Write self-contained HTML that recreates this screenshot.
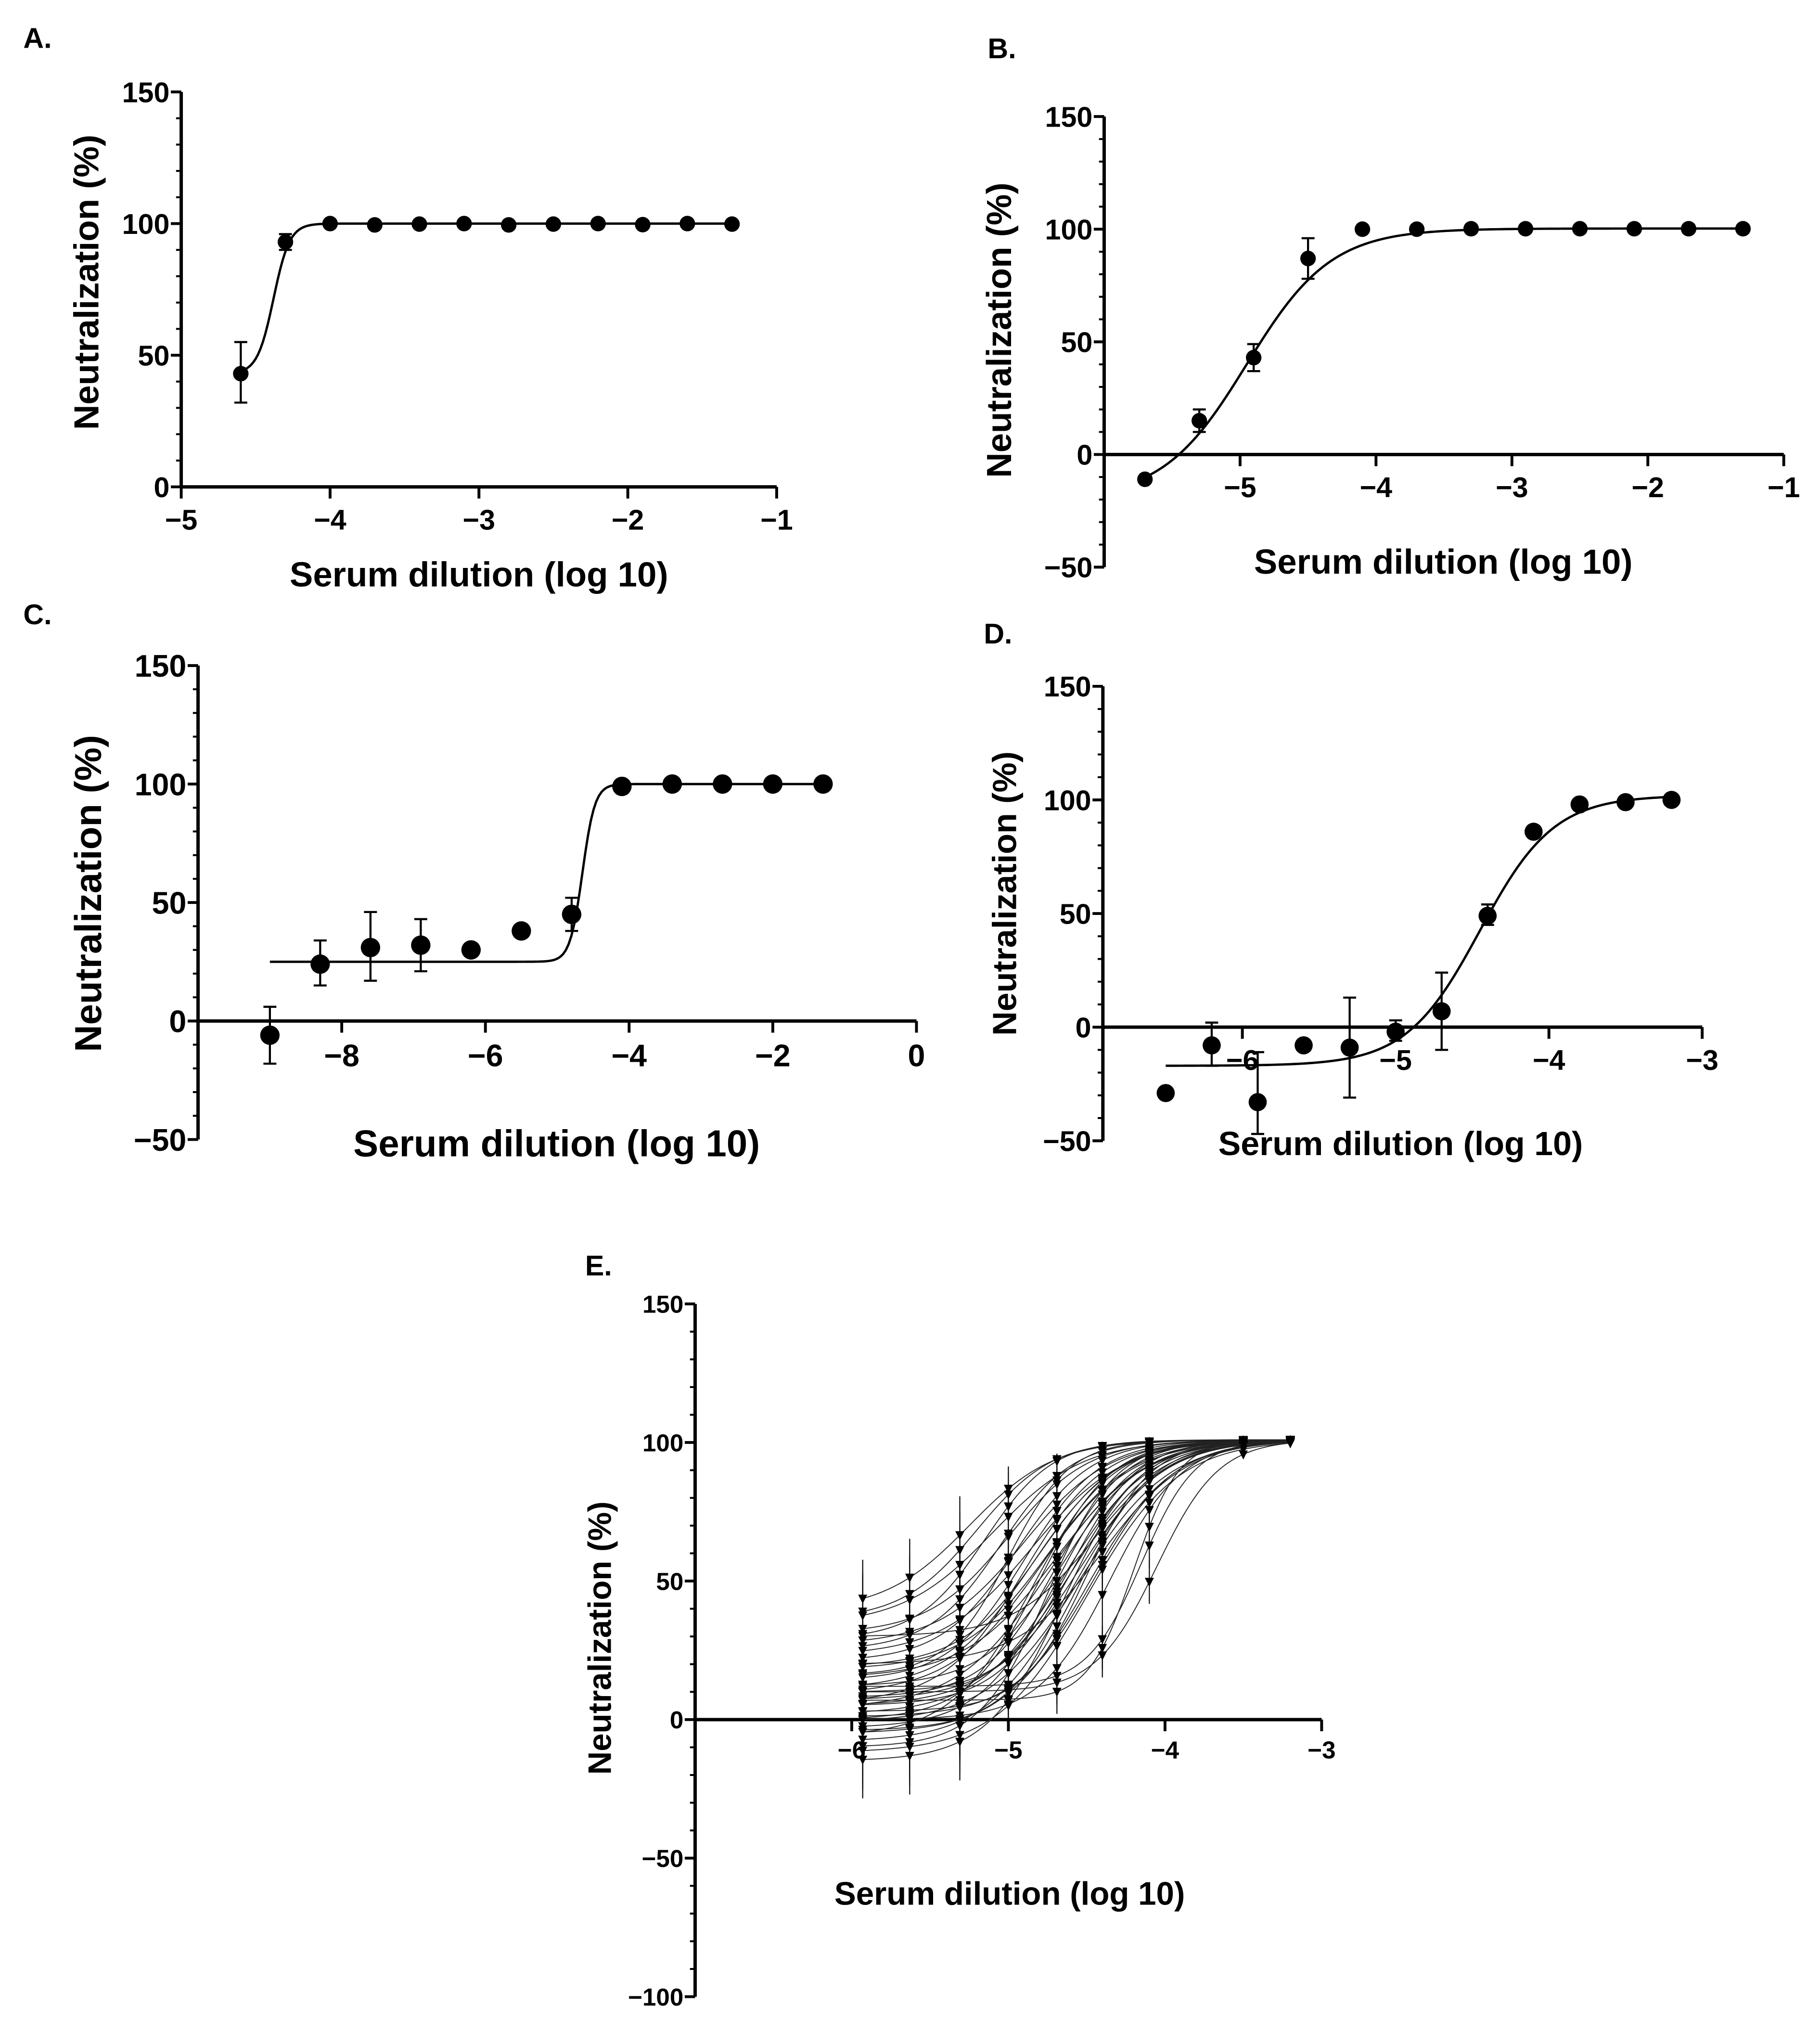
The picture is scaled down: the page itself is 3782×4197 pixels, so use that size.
<!DOCTYPE html>
<html><head><meta charset="utf-8"><style>
html,body{margin:0;padding:0;background:#fff}
svg{display:block}
text{font-family:"Liberation Sans",Arial,sans-serif;font-weight:bold;fill:#000}
</style></head><body>
<svg id="fig" width="3782" height="4197" viewBox="0 0 1406 1560" preserveAspectRatio="none" xmlns="http://www.w3.org/2000/svg"></svg>
<script>
// ---- Panel A data ----
const aX = [-4.6,-4.3,-4.0,-3.7,-3.4,-3.1,-2.8,-2.5,-2.2,-1.9,-1.6,-1.3];
const aY = [43,93,100,99.5,99.8,100,99.5,99.8,100,99.6,100,99.8];
const aErrLo = [32,90,100,99.5,99.8,100,99.5,99.8,100,99.6,100,99.8];
const aErrHi = [55,96,100,99.5,99.8,100,99.5,99.8,100,99.6,100,99.8];
const aFit = [43,100,-4.38,8];
// ---- Panel B data ----
const bX = [-5.7,-5.3,-4.9,-4.5,-4.1,-3.7,-3.3,-2.9,-2.5,-2.1,-1.7,-1.3];
const bY = [-11,15,43,87,100,100,100.2,100.2,100.2,100.2,100.2,100.2];
const bErrLo = [-11,10,37,78,100,100,100.2,100.2,100.2,100.2,100.2,100.2];
const bErrHi = [-11,20,49,96,100,100,100.2,100.2,100.2,100.2,100.2,100.2];
const bFit = [-20,100.3,-4.95,1.4];
// ---- Panel C data ----
const cX = [-9.0,-8.3,-7.6,-6.9,-6.2,-5.5,-4.8,-4.1,-3.4,-2.7,-2.0,-1.3];
const cY = [-6,24,31,32,30,38,45,99,100,100,100,100];
const cErrLo = [-18,15,17,21,30,38,38,99,100,100,100,100];
const cErrHi = [6,34,46,43,30,38,52,99,100,100,100,100];
const cFit = [25,100,-4.65,5];
// ---- Panel D data ----
const dX = [-6.5,-6.2,-5.9,-5.6,-5.3,-5.0,-4.7,-4.4,-4.1,-3.8,-3.5,-3.2];
const dY = [-29,-8,-33,-8,-9,-2,7,49,86,98,99,100];
const dErrLo = [-29,-17,-47,-8,-31,-6,-10,45,86,98,99,100];
const dErrHi = [-29,2,-11,-8,13,3,24,54,86,98,99,100];
const dFit = [-17,102,-4.45,1.8];
// ---- Panel E data (one entry per curve) ----
const eX = [-5.93,-5.63,-5.31,-5.0,-4.69,-4.4,-4.1,-3.5,-3.2];
const eBottom = [39,36,34,31,29,27,25,23,21,19,18,16,15,14,12,11,10,9,8,7,6,5,4,3,2,1,0,-1,-3,-5,-6,-8,-10,-12,-15,7,12,20,30,-4,0,5,10];
const eIC50 = [-5.25,-5.2,-5.1,-5.0,-5.15,-4.9,-5.05,-4.85,-4.95,-4.8,-4.75,-5.0,-4.7,-4.9,-4.65,-4.85,-4.6,-4.8,-4.7,-4.55,-4.9,-4.6,-4.75,-4.5,-4.65,-4.45,-4.8,-4.55,-4.7,-4.5,-4.85,-4.6,-4.75,-4.5,-4.65,-4.2,-4.15,-4.4,-4.45,-4.55,-4.35,-4.6,-4.05];
const eHill = [1.6,1.8,1.5,1.7,2.0,1.6,1.9,1.5,1.8,1.7,1.6,2.2,1.5,1.8,1.7,1.6,2.0,1.5,1.9,1.6,1.7,1.8,1.5,2.1,1.6,1.7,1.9,1.5,1.8,1.6,1.7,1.6,2.0,1.5,1.8,3,2.5,1.6,1.7,1.8,1.9,1.6,2.2];

const NS='http://www.w3.org/2000/svg';
const svg=document.getElementById('fig');
function mk(tag,attrs,parent){const e=document.createElementNS(NS,tag);for(const k in attrs)e.setAttribute(k,attrs[k]);(parent||svg).appendChild(e);return e;}
function fpl(p,x){return p[0]+(p[1]-p[0])/(1+Math.pow(10,(p[2]-x)*p[3]));}

function panel(cfg){
  const g=mk('g',{});
  
  
  const sx=v=>cfg.x0+(v-cfg.xmin)*(cfg.x1-cfg.x0)/(cfg.xmax-cfg.xmin);
  const sy=v=>cfg.y0+(v-cfg.ymin)*(cfg.y1-cfg.y0)/(cfg.ymax-cfg.ymin);
  const lab=mk('text',{x:cfg.lx,y:cfg.ly,'font-size':22,'font-family':'DejaVu Sans'},g);lab.textContent=cfg.label;
  
  
  const ya=mk('line',{x1:sx(cfg.xmin),x2:sx(cfg.xmin),y1:sy(cfg.ymin),y2:sy(cfg.ymax),stroke:'#000','stroke-width':2.6},g);
  
  
  const ax0=sx(cfg.xmin);
  for(let v=cfg.ymin;v<=cfg.ymax+0.01;v+=10){mk('line',{x1:ax0-4,x2:ax0,y1:sy(v),y2:sy(v),stroke:'#000','stroke-width':1.5},g);}
  cfg.yticks.forEach(v=>{
    mk('line',{x1:ax0-8,x2:ax0,y1:sy(v),y2:sy(v),stroke:'#000','stroke-width':2.2},g);
    const t=mk('text',{x:ax0-9,y:sy(v)+cfg.fs*0.36,'text-anchor':'end','font-size':cfg.fs},g);t.textContent=v<0?'\u2212'+(-v):v;
    
    
  });
  const y0=sy(0);
  const xa=mk('line',{x1:sx(cfg.xmin),x2:sx(cfg.xmax),y1:y0,y2:y0,stroke:'#000','stroke-width':2.6},g);
  
  
  cfg.xticks.forEach(v=>{
    mk('line',{x1:sx(v),x2:sx(v),y1:y0,y2:y0+9,stroke:'#000','stroke-width':2.2},g);
    const t=mk('text',{x:sx(v),y:y0+cfg.fs+11,'text-anchor':'middle','font-size':cfg.fs},g);t.textContent=v<0?'\u2212'+(-v):v;
    
    
  });
  const xt=mk('text',{x:cfg.xtx,y:cfg.xty,'text-anchor':'middle','font-size':cfg.tfs},g);xt.textContent='Serum dilution (log 10)';
  
  
  const yt=mk('text',{x:cfg.ytx,y:cfg.yty,'text-anchor':'middle','font-size':cfg.tfs,transform:`rotate(-90 ${cfg.ytx} ${cfg.yty})`},g);yt.textContent='Neutralization (%)';
  
  
  return {g,sx,sy};
}
function curve(P,fit,from,to,w){
  let d='';for(let i=0;i<=200;i++){const x=from+(to-from)*i/200;d+=(i?'L':'M')+P.sx(x).toFixed(2)+' '+P.sy(fpl(fit,x)).toFixed(2);}
  const c=mk('path',{d:d,fill:'none',stroke:'#000','stroke-width':w},P.g);
  
  
}
function points(P,xs,ys,lo,hi,r){
  xs.forEach((x,i)=>{
    if(hi[i]-lo[i]>0.5){
      const cx=P.sx(x);
      mk('line',{x1:cx,x2:cx,y1:P.sy(lo[i]),y2:P.sy(hi[i]),stroke:'#000','stroke-width':1.6},P.g);
      mk('line',{x1:cx-5,x2:cx+5,y1:P.sy(lo[i]),y2:P.sy(lo[i]),stroke:'#000','stroke-width':1.6},P.g);
      mk('line',{x1:cx-5,x2:cx+5,y1:P.sy(hi[i]),y2:P.sy(hi[i]),stroke:'#000','stroke-width':1.6},P.g);
    }
    const c=mk('circle',{cx:P.sx(x),cy:P.sy(ys[i]),r:r,fill:'#000'},P.g);
    
    
  });
}
// A
const PA=panel({name:'panel-a',label:'A.',lx:18,ly:37,x0:140,x1:600,xmin:-5,xmax:-1,y0:376,y1:71,ymin:0,ymax:150,
  yticks:[0,50,100,150],xticks:[-5,-4,-3,-2,-1],fs:22,tfs:27,xtx:370,xty:453,ytx:76,yty:218});
curve(PA,aFit,-4.6,-1.3,1.8);points(PA,aX,aY,aErrLo,aErrHi,6);
// B
const PB=panel({name:'panel-b',label:'B.',lx:763,ly:45,x0:853,x1:1378,xmin:-6,xmax:-1,y0:438,y1:90,ymin:-50,ymax:150,
  yticks:[-50,0,50,100,150],xticks:[-5,-4,-3,-2,-1],fs:22,tfs:27,xtx:1115,xty:443,ytx:781,yty:255});
curve(PB,bFit,-5.7,-1.3,1.8);points(PB,bX,bY,bErrLo,bErrHi,6);
// C
const PC=panel({name:'panel-c',label:'C.',lx:18,ly:482,x0:153,x1:708,xmin:-10,xmax:0,y0:880,y1:514,ymin:-50,ymax:150,
  yticks:[-50,0,50,100,150],xticks:[-8,-6,-4,-2,0],fs:24,tfs:29,xtx:430,xty:893,ytx:78,yty:690});
curve(PC,cFit,-9.0,-1.3,1.8);points(PC,cX,cY,cErrLo,cErrHi,7.5);
// D
const PD=panel({name:'panel-d',label:'D.',lx:760,ly:497,x0:852,x1:1315,xmin:-6.91,xmax:-3,y0:881,y1:530,ymin:-50,ymax:150,
  yticks:[-50,0,50,100,150],xticks:[-6,-5,-4,-3],fs:22,tfs:26,xtx:1082,xty:892,ytx:785,yty:690});
curve(PD,dFit,-6.5,-3.2,1.8);points(PD,dX,dY,dErrLo,dErrHi,7);
// E
const PE=panel({name:'panel-e',label:'E.',lx:452,ly:985,x0:537,x1:1021,xmin:-7,xmax:-3,y0:1542,y1:1007,ymin:-100,ymax:150,
  yticks:[-100,-50,0,50,100,150],xticks:[-6,-5,-4,-3],fs:19,tfs:25,xtx:780,xty:1471,ytx:472,yty:1265});
eBottom.forEach((b,i)=>{
  const fit=[b,101,eIC50[i],eHill[i]];
  let d='';for(let k=0;k<=150;k++){const x=-5.93+(2.73)*k/150;d+=(k?'L':'M')+PE.sx(x).toFixed(2)+' '+PE.sy(fpl(fit,x)).toFixed(2);}
  const c=mk('path',{d:d,fill:'none',stroke:'#222','stroke-width':0.7},PE.g);
  
  
  eX.forEach((x,j)=>{
    const v=fpl(fit,x),px=PE.sx(x),py=PE.sy(v);
    const spread=v<90?(j<3?14:8):1.5;
    mk('line',{x1:px,x2:px,y1:PE.sy(v-spread),y2:PE.sy(v+spread),stroke:'#000','stroke-width':0.8},PE.g);
    const t=mk('path',{d:`M${px-3.5} ${py-3}L${px+3.5} ${py-3}L${px} ${py+4}Z`,fill:'#000'},PE.g);
    
    
  });
});
</script>
</body></html>
